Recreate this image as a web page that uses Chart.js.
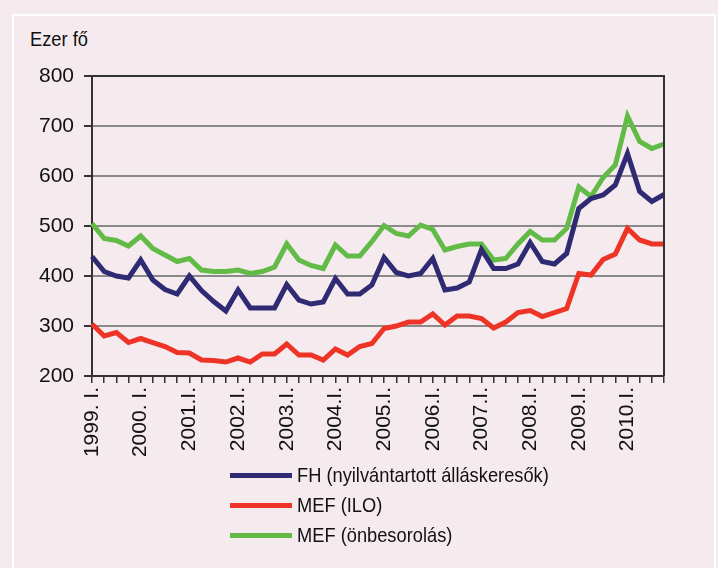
<!DOCTYPE html>
<html>
<head>
<meta charset="utf-8">
<script src="https://cdn.jsdelivr.net/npm/chart.js@4.4.1/dist/chart.umd.min.js"></script>
<style>
  html, body { margin: 0; padding: 0; }
  body { width: 718px; height: 568px; background: #f5ebef; position: relative; overflow: hidden; }
  #frame { position: absolute; left: 12px; top: 14px; width: 700px; height: 580px; border: 2px solid #ffffff; }
  #unit { position: absolute; left: 30px; top: 27px; font: 21px "Liberation Sans", Arial, sans-serif; color: #111;
          transform: scaleX(0.87); transform-origin: left center; }
  #wrap { position: absolute; left: 0; top: 0; width: 718px; height: 470px; }
  #legend { position: absolute; left: 230px; top: 460px; font: 21px "Liberation Sans", Arial, sans-serif; color: #111; }
  .item { height: 30px; display: flex; align-items: center; }
  .swatch { width: 62px; height: 5px; margin-right: 5px; }
  .name { display: inline-block; transform: scaleX(0.87); transform-origin: left center; white-space: nowrap; }
</style>
</head>
<body>
<div id="frame"></div>
<div id="unit">Ezer fő</div>
<div id="wrap"><canvas id="chart" width="718" height="470"></canvas></div>
<div id="legend"></div>
<script>
// year labels, one every 4 quarters (1999 Q1 .. 2010 Q4)
var yearLabels = ['1999. I.', '2000. I.', '2001.I.', '2002.I.', '2003.I.', '2004.I.',
                  '2005.I.', '2006.I.', '2007.I.', '2008.I.', '2009.I.', '2010.I.'];

var seriesNames = ['FH (nyilvántartott álláskeresők)', 'MEF (ILO)', 'MEF (önbesorolás)'];
var seriesColors = ['#2e2b72', '#ee3427', '#62bb46'];

var fh = [439, 409, 400, 396, 432, 392, 373, 364, 400, 371, 349, 330,
          372, 336, 336, 336, 383, 352, 344, 348, 395, 364, 364, 382,
          437, 407, 400, 405, 435, 372, 376, 388, 453, 415, 415, 424,
          467, 429, 424, 445, 535, 555, 562, 582, 645, 569, 549, 563];

var mefIlo = [304, 280, 287, 267, 275, 267, 259, 247, 246, 232, 231, 228,
              236, 228, 244, 244, 264, 242, 242, 232, 254, 242, 259, 265,
              295, 300, 308, 308, 324, 302, 320, 320, 315, 296, 308, 327,
              331, 319, 327, 335, 405, 402, 433, 444, 495, 472, 464, 464];

var mefOnb = [505, 475, 471, 460, 480, 455, 442, 429, 435, 412, 409, 409,
              412, 405, 409, 418, 464, 432, 421, 415, 462, 440, 440, 469,
              501, 485, 480, 502, 493, 452, 459, 464, 464, 432, 435, 464,
              489, 472, 472, 495, 578, 559, 597, 622, 720, 669, 655, 664];

// quarter categories: label on each first quarter
var labels = [];
yearLabels.forEach(function(y) {
    labels.push(y, '', '', '');
});

var allSeries = [fh, mefIlo, mefOnb];
var datasets = allSeries.map(function(values, i) {
    return {
        label: seriesNames[i],
        data: values,
        borderColor: seriesColors[i],
        backgroundColor: seriesColors[i],
        borderWidth: 5,
        pointRadius: 0,
        tension: 0,
        borderJoinStyle: 'miter'
    };
});

// frame around plot area (top and right edges)
var framePlugin = {
    id: 'frame',
    afterDraw: function(chart) {
        var a = chart.chartArea, c = chart.ctx;
        c.save();
        c.strokeStyle = '#333';
        c.lineWidth = 2;
        c.beginPath();
        c.moveTo(a.left, a.top);
        c.lineTo(a.right, a.top);
        c.lineTo(a.right, a.bottom);
        c.stroke();
        c.restore();
    }
};

new Chart(document.getElementById('chart').getContext('2d'), {
    type: 'line',
    data: { labels: labels, datasets: datasets },
    plugins: [framePlugin],
    options: {
        responsive: false,
        animation: false,
        layout: { padding: { left: 0, top: 76, right: 54, bottom: 0 } },
        plugins: { legend: { display: false }, tooltip: { enabled: false } },
        scales: {
            x: {
                offset: false,
                grid: { drawOnChartArea: false, drawTicks: true, tickLength: 7, color: '#333', lineWidth: 1.5 },
                border: { display: true, color: '#333', width: 2 },
                ticks: {
                    autoSkip: false, minRotation: 90, maxRotation: 90, padding: 4,
                    color: '#111', font: { family: '"Liberation Sans", Arial', size: 21 }
                },
                afterFit: function(scale) { scale.height = 94; }
            },
            y: {
                min: 200, max: 800,
                ticks: {
                    stepSize: 100, padding: 10, color: '#111',
                    font: { family: '"Liberation Sans", Arial', size: 21 }
                },
                grid: { color: '#8a8a8a', lineWidth: 2, tickLength: 8, tickColor: '#333' },
                border: { display: true, color: '#333', width: 2 },
                afterFit: function(scale) { scale.width = 92; }
            }
        }
    }
});

// legend
var legend = document.getElementById('legend');
seriesNames.forEach(function(name, i) {
    var row = document.createElement('div');
    row.className = 'item';
    row.innerHTML = '<span class="swatch" style="background:' + seriesColors[i] + '"></span><span class="name">' + name + '</span>';
    legend.appendChild(row);
});
</script>
</body>
</html>
